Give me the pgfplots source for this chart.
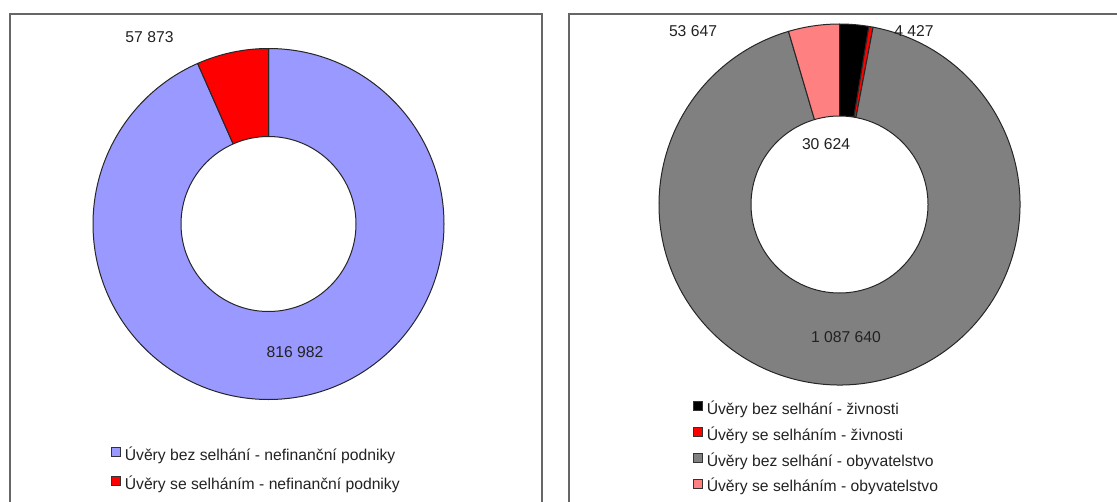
\documentclass[border=0pt]{standalone}
\usepackage{pgfplots}
\usepackage{pgfplotstable}
\pgfplotsset{compat=1.18}
\usepackage{fontspec}
\setmainfont{Liberation Sans}
\definecolor{cblue}{HTML}{9999FF}
\definecolor{cred}{HTML}{FF0000}
\definecolor{cgray}{HTML}{808080}
\definecolor{cpink}{HTML}{FF8080}
\definecolor{cblack}{HTML}{000000}
\definecolor{frame}{HTML}{666666}
\definecolor{txt}{HTML}{222222}

\pgfplotstableread[col sep=comma]{
label,value,color
Úvěry bez selhání - nefinanční podniky,816982,cblue
Úvěry se selháním - nefinanční podniky,57873,cred
}\tabL
\pgfplotstableread[col sep=comma]{
label,value,color
Úvěry bez selhání - živnosti,30624,cblack
Úvěry se selháním - živnosti,4427,cred
Úvěry bez selhání - obyvatelstvo,1087640,cgray
Úvěry se selháním - obyvatelstvo,53647,cpink
}\tabR

% #1 table, #2 cx, #3 cy (px from top), #4 outer radius, #5 inner radius
\newcommand\donut[5]{%
  \pgfplotstablegetrowsof{#1}%
  \pgfmathtruncatemacro\dnLast{\pgfplotsretval-1}%
  \def\dnTot{0}%
  \pgfplotsforeachungrouped \dnI in {0,...,\dnLast}{%
    \pgfplotstablegetelem{\dnI}{value}\of{#1}%
    \edef\dnTot{\fpeval{\dnTot+\pgfplotsretval}}%
  }%
  \def\dnCum{0}%
  \pgfplotsforeachungrouped \dnI in {0,...,\dnLast}{%
    \pgfplotstablegetelem{\dnI}{value}\of{#1}\let\dnVal\pgfplotsretval
    \pgfplotstablegetelem{\dnI}{color}\of{#1}\let\dnCol\pgfplotsretval
    \edef\dnA{\fpeval{90-360*\dnCum/\dnTot}}%
    \edef\dnCum{\fpeval{\dnCum+\dnVal}}%
    \edef\dnB{\fpeval{90-360*\dnCum/\dnTot}}%
    \edef\dnCmd{\noexpand\filldraw[fill=\dnCol, draw=black!85, line width=1pt, line join=round]
      (axis cs:#2,#3) -- ++(\dnA:#4pt) arc[start angle=\dnA, end angle=\dnB, radius=#4pt] -- cycle;}%
    \dnCmd
  }%
  \filldraw[fill=white, draw=black!85, line width=1pt] (axis cs:#2,#3) circle[radius=#5pt];
}

\tikzset{lab/.style={font=\fontsize{15.7}{18}\selectfont, text=txt}}
\pgfplotsset{
  donutaxis/.style={
    at={(0,0)}, anchor=south west,
    scale only axis, width=1117pt, height=501pt,
    xmin=0, xmax=1117, ymin=0, ymax=501, y dir=reverse,
    hide axis, clip=false,
    legend image code/.code={\filldraw[##1, draw=black!80, line width=0.8pt] (0pt,0pt) rectangle (9pt,9pt);},
    legend cell align=left,
    legend style={draw=none, fill=none, inner sep=0pt, outer sep=0pt,
      font=\fontsize{15.7}{18}\selectfont, text=txt,
      nodes={inner sep=0pt, text height=11pt, text depth=3pt},
      /tikz/every odd column/.append style={column sep=4pt}},
  },
}

\begin{document}
\begin{tikzpicture}
\useasboundingbox (0,0) rectangle (1117pt,501pt);
% left panel
\begin{axis}[donutaxis,
  legend style={at={(axis description cs:0.0994,0.108)}, anchor=north west, row sep=12.5pt}]
  \draw[frame, line width=2pt] (axis cs:10,505) -- (axis cs:10,13.5) -- (axis cs:542,13.5) -- (axis cs:542,505);
  \donut{\tabL}{268.5}{224}{175.5}{87.5}
  \addlegendimage{fill=cblue}\addlegendentry{Úvěry bez selhání - nefinanční podniky}
  \addlegendimage{fill=cred}\addlegendentry{Úvěry se selháním - nefinanční podniky}
  \node[lab] at (axis cs:149.5,37) {57 873};
  \node[lab] at (axis cs:295,352) {816 982};
\end{axis}
% right panel
\begin{axis}[donutaxis,
  legend style={at={(axis description cs:0.6204,0.2)}, anchor=north west, row sep=9.5pt}]
  \draw[frame, line width=2pt] (axis cs:569,505) -- (axis cs:569,13.5) -- (axis cs:1120,13.5);
  \donut{\tabR}{839.5}{204.5}{180.5}{88.5}
  \addlegendimage{fill=cblack}\addlegendentry{Úvěry bez selhání - živnosti}
  \addlegendimage{fill=cred}\addlegendentry{Úvěry se selháním - živnosti}
  \addlegendimage{fill=cgray}\addlegendentry{Úvěry bez selhání - obyvatelstvo}
  \addlegendimage{fill=cpink}\addlegendentry{Úvěry se selháním - obyvatelstvo}
  \node[lab] at (axis cs:693,31) {53 647};
  \node[lab] at (axis cs:914,31) {4 427};
  \node[lab] at (axis cs:826,144) {30 624};
  \node[lab] at (axis cs:846,337) {1 087 640};
\end{axis}
\end{tikzpicture}
\end{document}
